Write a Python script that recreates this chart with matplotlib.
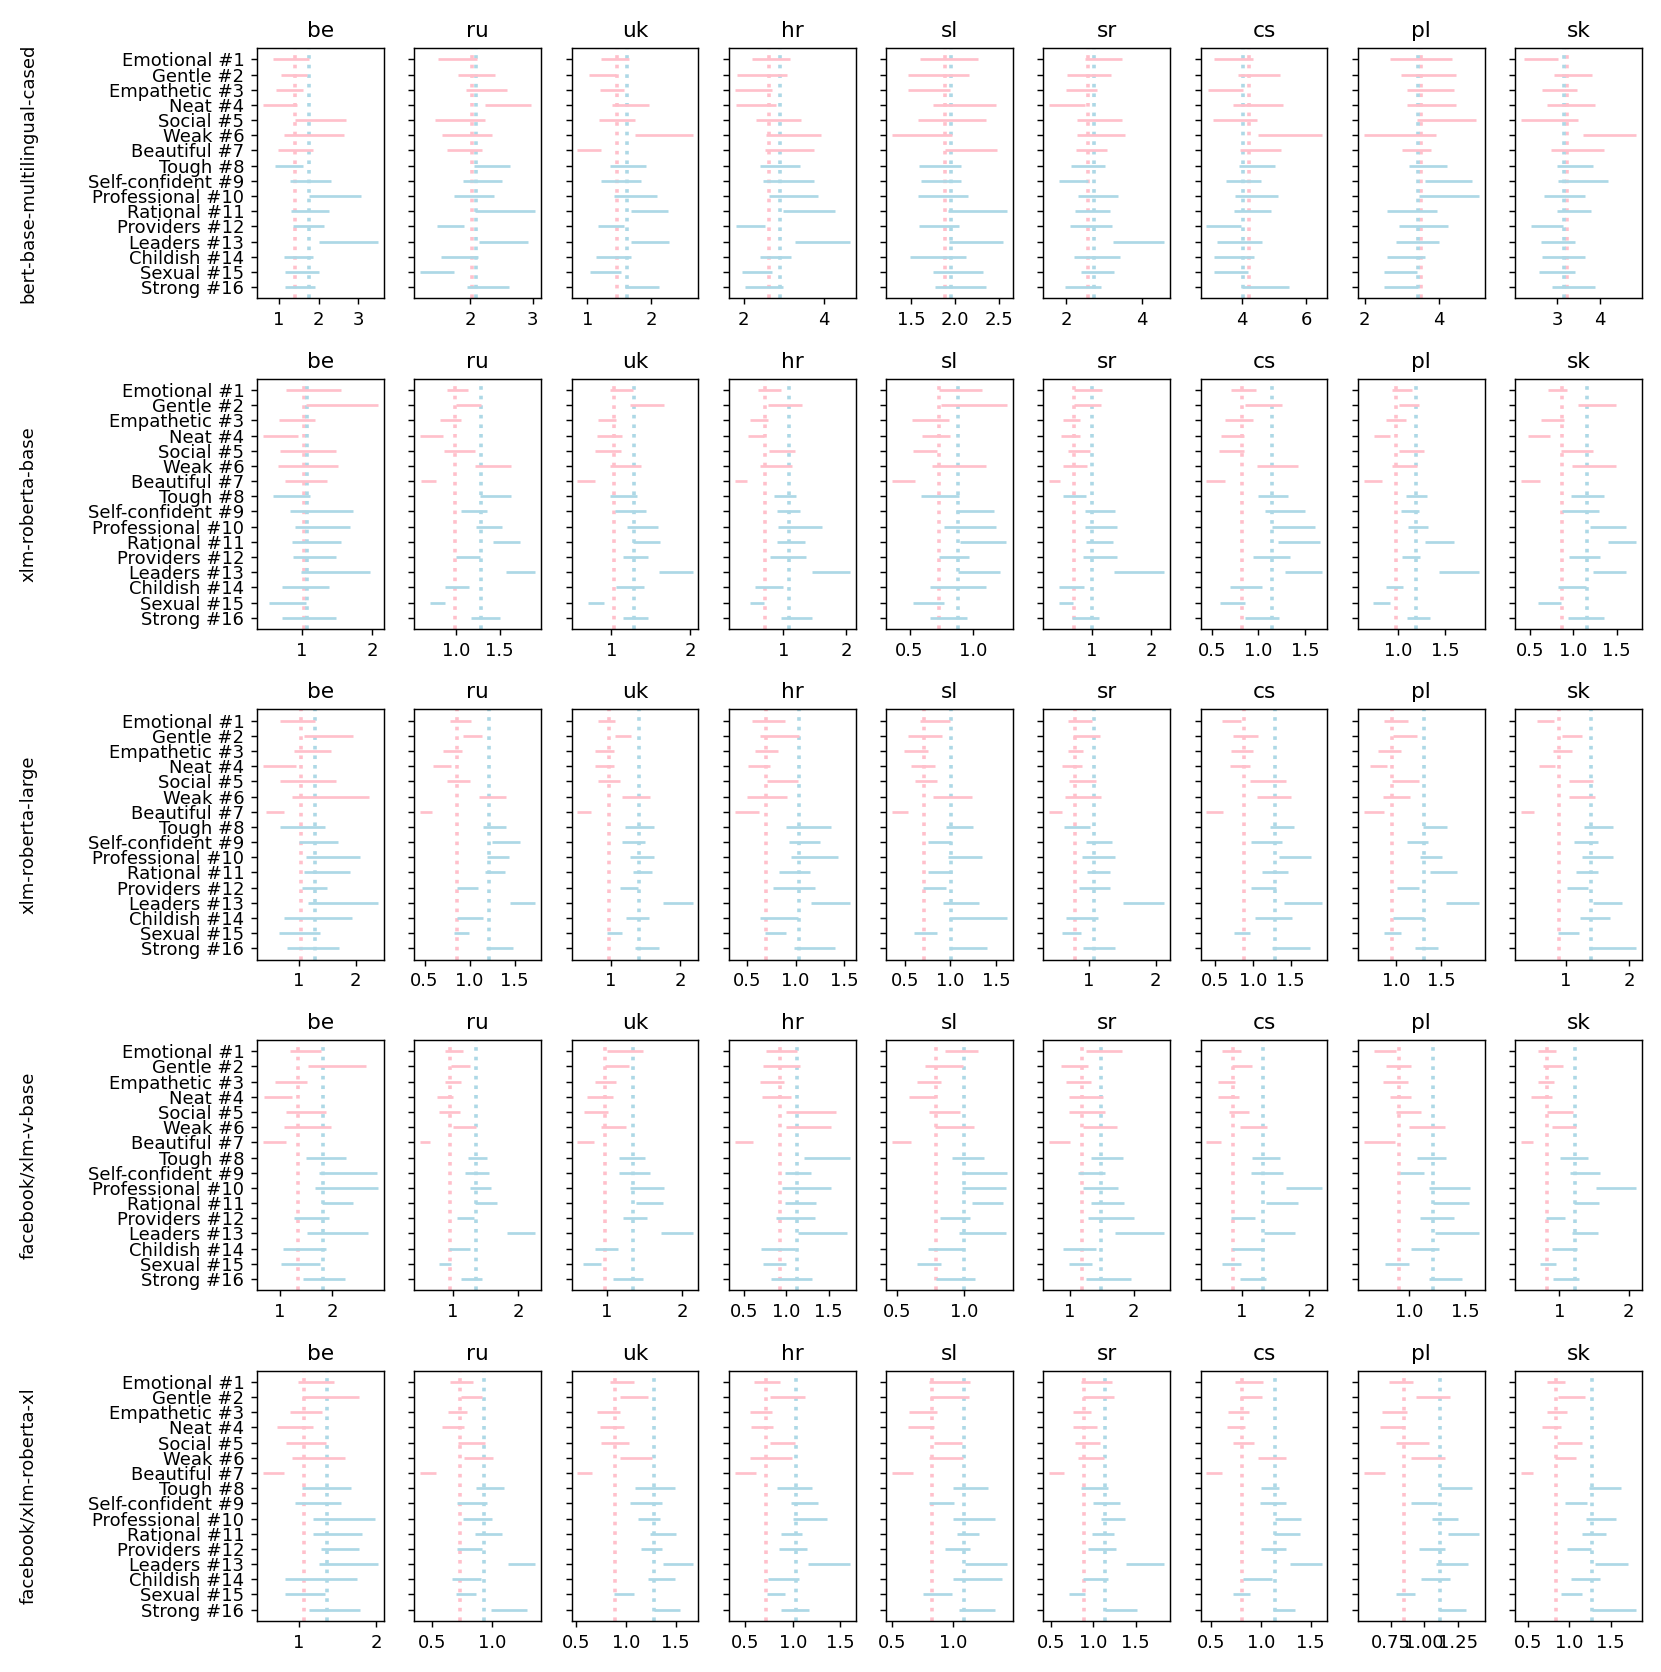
import matplotlib
matplotlib.use("Agg")
import matplotlib.pyplot as plt
import numpy as np

categories = ["Emotional #1", "Gentle #2", "Empathetic #3", "Neat #4", "Social #5",
              "Weak #6", "Beautiful #7", "Tough #8", "Self-confident #9",
              "Professional #10", "Rational #11", "Providers #12", "Leaders #13",
              "Childish #14", "Sexual #15", "Strong #16"]
n_female = 7  # first 7 categories are drawn in pink, the rest in light blue
languages = ["be", "ru", "uk", "hr", "sl", "sr", "cs", "pl", "sk"]
models = ["bert-base-multilingual-cased", "xlm-roberta-base", "xlm-roberta-large",
          "facebook/xlm-v-base", "facebook/xlm-roberta-xl"]

# ---------------- bert-base-multilingual-cased ----------------
bert_lo = [
    [0.86,1.07,0.93,0.60,1.42,1.14,0.98,0.91,1.28,1.77,1.32,1.36,2.00,1.13,1.17,1.15],
    [1.48,1.80,1.93,2.24,1.43,1.55,1.62,2.06,1.88,1.74,2.08,1.46,2.13,1.53,1.19,1.94],
    [1.21,1.02,1.20,1.38,1.18,1.74,0.84,1.35,1.22,1.41,1.68,1.17,1.68,1.13,1.04,1.59],
    [2.20,1.84,1.77,1.80,2.30,2.56,2.54,2.41,2.48,2.64,2.98,1.80,3.27,2.40,1.96,2.02],
    [1.60,1.46,1.46,1.75,1.58,1.28,1.88,1.59,1.61,1.58,1.92,1.59,1.93,1.49,1.75,1.77],
    [2.49,2.03,2.00,1.56,2.28,2.28,2.26,2.14,1.83,2.32,2.23,2.12,3.25,2.21,2.39,1.97],
    [3.15,3.88,2.96,3.73,3.10,4.50,3.94,3.91,3.51,3.79,3.76,2.90,3.22,3.15,3.15,4.00],
    [2.69,2.97,3.13,3.13,3.40,1.97,2.99,3.20,3.63,3.47,2.61,2.92,2.83,2.59,2.53,2.52],
    [2.22,2.93,2.64,2.75,2.15,3.59,2.84,2.98,3.01,2.69,2.98,2.38,2.61,2.65,2.56,2.87],
]
bert_hi = [
    [1.75,1.71,1.62,1.45,2.69,2.64,1.86,1.62,2.30,3.07,2.27,2.13,3.49,1.86,2.02,1.92],
    [2.11,2.40,2.58,2.97,2.23,2.35,2.19,2.64,2.51,2.38,3.04,1.89,2.92,2.12,1.74,2.62],
    [1.65,1.44,1.58,1.96,1.75,2.65,1.22,1.92,1.84,2.09,2.26,1.57,2.28,1.68,1.53,2.13],
    [3.15,3.09,2.70,2.80,3.43,3.93,3.75,3.40,3.75,3.85,4.27,2.53,4.65,3.19,2.71,2.97],
    [2.26,2.16,1.94,2.46,2.35,1.96,2.47,2.07,2.06,2.15,2.59,2.04,2.54,2.12,2.32,2.35],
    [3.48,3.19,2.83,2.49,3.48,3.56,3.07,3.02,2.57,3.38,3.16,3.21,4.59,3.42,3.26,2.93],
    [4.34,5.19,4.05,5.27,4.49,6.49,5.22,5.04,4.60,5.13,4.90,3.98,4.64,4.37,4.21,5.48],
    [4.35,4.45,4.41,4.47,4.99,3.91,3.79,4.21,4.88,5.08,3.95,4.25,4.00,3.61,3.40,3.44],
    [3.01,3.81,3.46,3.87,3.49,4.84,4.08,3.82,4.19,3.65,3.78,3.14,3.40,3.65,3.41,3.87],
]
bert_mean_f = [1.40, 2.03, 1.46, 2.64, 1.88, 2.59, 4.24, 3.51, 3.22]
bert_mean_m = [1.76, 2.09, 1.62, 2.91, 1.95, 2.74, 4.03, 3.44, 3.15]

# ---------------- xlm-roberta-base ----------------
xlmrb_lo = [
    [0.78,1.06,0.68,0.45,0.70,0.67,0.77,0.60,0.84,0.90,0.87,0.88,0.99,0.72,0.54,0.72],
    [0.89,1.00,0.81,0.58,0.86,1.21,0.59,1.27,1.05,1.23,1.42,1.00,1.57,0.87,0.70,1.17],
    [0.99,1.24,0.83,0.82,0.80,0.98,0.57,0.98,1.05,1.20,1.28,1.15,1.60,1.06,0.71,1.15],
    [0.59,0.76,0.47,0.43,0.77,0.62,0.22,0.85,0.89,0.92,0.90,0.78,1.46,0.55,0.47,0.96],
    [0.73,0.75,0.52,0.60,0.53,0.68,0.36,0.59,0.87,0.77,0.90,0.73,0.88,0.66,0.53,0.66],
    [0.71,0.70,0.52,0.49,0.60,0.52,0.29,0.53,0.89,0.89,0.90,0.86,1.38,0.46,0.46,0.67],
    [0.70,0.86,0.64,0.60,0.58,0.98,0.44,0.99,1.07,1.14,1.21,0.94,1.28,0.69,0.59,0.86],
    [0.94,1.01,0.88,0.75,1.01,0.94,0.64,1.09,1.03,1.11,1.29,1.04,1.44,0.88,0.74,1.10],
    [0.70,1.05,0.62,0.47,0.86,0.98,0.39,0.97,0.87,1.19,1.40,0.95,1.23,0.82,0.59,0.94],
]
xlmrb_hi = [
    [1.55,2.08,1.19,0.95,1.49,1.51,1.36,1.12,1.72,1.69,1.56,1.48,1.97,1.39,1.06,1.49],
    [1.13,1.28,1.05,0.84,1.21,1.63,0.76,1.63,1.35,1.52,1.73,1.27,1.91,1.14,0.87,1.50],
    [1.28,1.67,1.06,1.14,1.12,1.38,0.79,1.33,1.44,1.59,1.62,1.46,2.03,1.42,0.91,1.47],
    [0.96,1.29,0.75,0.69,1.18,1.14,0.42,1.20,1.27,1.62,1.34,1.36,2.06,1.00,0.69,1.46],
    [1.07,1.27,0.81,0.82,0.72,1.10,0.54,0.89,1.17,1.18,1.26,0.97,1.21,1.10,0.77,0.95],
    [1.18,1.16,0.81,0.81,0.98,0.92,0.48,0.91,1.39,1.43,1.36,1.42,2.22,0.87,0.69,1.12],
    [0.97,1.25,0.94,0.84,0.84,1.42,0.64,1.32,1.50,1.61,1.66,1.34,1.68,1.04,0.86,1.22],
    [1.15,1.22,1.09,0.92,1.28,1.20,0.83,1.31,1.22,1.32,1.60,1.24,1.86,1.06,0.92,1.34],
    [0.93,1.49,0.89,0.73,1.23,1.49,0.61,1.36,1.30,1.61,1.73,1.31,1.61,1.14,0.86,1.35],
]
xlmrb_mean_f = [1.03, 0.98, 1.04, 0.71, 0.73, 0.70, 0.82, 0.98, 0.87]
xlmrb_mean_m = [1.08, 1.28, 1.29, 1.09, 0.88, 1.00, 1.15, 1.19, 1.16]

# ---------------- xlm-roberta-large ----------------
xlmrl_lo = [
    [0.68,1.09,0.92,0.37,0.67,0.89,0.42,0.68,1.01,1.12,1.09,1.06,1.17,0.74,0.65,0.80],
    [0.78,0.93,0.71,0.59,0.75,1.11,0.45,1.15,1.25,1.19,1.17,0.86,1.45,0.86,0.83,1.18],
    [0.82,1.06,0.78,0.78,0.82,1.16,0.52,1.20,1.17,1.28,1.32,1.14,1.75,1.22,0.95,1.35],
    [0.55,0.63,0.58,0.51,0.70,0.50,0.37,0.90,0.93,0.95,0.83,0.77,1.16,0.63,0.68,0.98],
    [0.67,0.54,0.49,0.57,0.61,0.81,0.36,0.95,0.75,0.97,0.76,0.70,0.92,0.98,0.60,0.99],
    [0.68,0.76,0.68,0.60,0.70,0.64,0.40,0.63,0.96,0.90,0.97,0.85,1.51,0.66,0.60,0.91],
    [0.59,0.74,0.72,0.70,0.97,1.06,0.39,1.23,0.98,1.35,1.12,0.98,1.41,1.03,0.76,1.26],
    [0.87,0.97,0.80,0.71,0.95,0.85,0.64,1.30,1.12,1.26,1.38,1.01,1.55,0.97,0.87,1.21],
    [0.54,0.94,0.79,0.58,1.05,1.05,0.29,1.29,1.12,1.26,1.16,1.01,1.42,1.22,0.88,1.36],
]
xlmrl_hi = [
    [1.29,1.96,1.57,0.96,1.65,2.23,0.74,1.46,1.68,2.08,1.90,1.50,2.39,1.93,1.37,1.70],
    [1.02,1.14,0.92,0.79,1.01,1.41,0.58,1.41,1.56,1.44,1.39,1.09,1.73,1.15,0.99,1.48],
    [1.07,1.30,1.05,1.05,1.13,1.56,0.72,1.63,1.49,1.63,1.60,1.40,2.18,1.55,1.16,1.70],
    [0.89,1.04,0.82,0.74,1.02,0.91,0.62,1.36,1.25,1.44,1.15,1.20,1.56,1.02,0.90,1.41],
    [1.00,0.91,0.75,0.83,0.85,1.24,0.54,1.25,1.01,1.34,1.02,0.95,1.31,1.62,0.85,1.40],
    [1.04,1.17,0.91,0.90,1.10,1.18,0.60,1.01,1.35,1.39,1.32,1.32,2.13,1.13,0.88,1.39],
    [0.84,1.07,1.01,0.96,1.44,1.50,0.61,1.55,1.39,1.77,1.46,1.31,1.91,1.52,0.97,1.75],
    [1.13,1.23,1.05,0.90,1.25,1.15,0.86,1.57,1.35,1.51,1.68,1.25,1.92,1.31,1.05,1.47],
    [0.81,1.26,1.10,0.82,1.43,1.46,0.50,1.75,1.51,1.74,1.51,1.34,1.88,1.69,1.20,2.11],
]
xlmrl_mean_f = [1.04, 0.86, 0.98, 0.69, 0.71, 0.79, 0.88, 0.95, 0.89]
xlmrl_mean_m = [1.28, 1.22, 1.41, 1.04, 1.01, 1.08, 1.30, 1.31, 1.40]

# ---------------- facebook/xlm-v-base ----------------
xlmv_lo = [
    [1.20,1.53,0.90,0.69,1.12,1.07,0.67,1.49,1.74,1.68,1.80,1.26,1.51,1.05,1.02,1.44],
    [0.88,0.97,0.88,0.76,0.79,1.01,0.50,1.23,1.18,1.27,1.34,1.07,1.83,0.94,0.79,1.12],
    [1.01,0.98,0.84,0.74,0.70,0.92,0.61,1.16,1.17,1.31,1.39,1.21,1.72,0.85,0.68,1.09],
    [0.76,0.72,0.69,0.71,1.00,1.00,0.39,1.21,0.98,0.95,0.98,0.88,1.14,0.70,0.72,0.82],
    [0.86,0.71,0.65,0.59,0.74,0.78,0.46,0.91,0.99,0.98,1.06,0.82,0.96,0.73,0.65,0.79],
    [1.25,0.85,0.94,0.98,0.98,1.20,0.67,1.32,1.12,1.20,1.32,1.28,1.70,0.88,0.98,1.25],
    [0.70,0.85,0.65,0.65,0.80,0.97,0.47,1.15,1.13,1.65,1.36,0.83,1.33,0.85,0.70,0.97],
    [0.69,0.80,0.77,0.83,0.89,1.00,0.60,1.07,0.92,1.18,1.21,1.10,1.23,1.02,0.79,1.18],
    [0.69,0.76,0.69,0.60,0.82,0.90,0.45,1.01,1.16,1.53,1.21,0.81,1.18,0.90,0.72,0.91],
]
xlmv_hi = [
    [1.79,2.65,1.52,1.23,1.89,1.98,1.12,2.27,2.86,2.88,2.40,1.94,2.68,1.88,1.76,2.25],
    [1.16,1.26,1.13,1.00,1.11,1.35,0.66,1.52,1.55,1.59,1.68,1.33,2.26,1.26,0.98,1.44],
    [1.48,1.30,1.12,1.09,1.02,1.26,0.83,1.51,1.58,1.76,1.75,1.53,2.14,1.15,0.92,1.48],
    [1.13,1.16,0.97,1.05,1.59,1.53,0.61,1.75,1.29,1.53,1.35,1.34,1.72,1.10,1.00,1.30],
    [1.10,0.99,0.83,0.78,0.97,1.07,0.60,1.15,1.32,1.31,1.29,1.04,1.31,1.00,0.83,1.08],
    [1.81,1.28,1.32,1.52,1.55,1.74,1.00,1.83,1.55,1.75,1.84,2.00,2.48,1.41,1.35,1.95],
    [0.99,1.15,0.89,0.95,1.10,1.37,0.68,1.57,1.61,2.19,1.83,1.19,1.79,1.33,0.99,1.36],
    [0.89,1.02,0.99,1.02,1.11,1.32,0.88,1.33,1.13,1.54,1.53,1.40,1.62,1.27,1.00,1.47],
    [0.95,1.05,0.93,0.89,1.20,1.24,0.62,1.42,1.59,2.11,1.58,1.09,1.56,1.25,0.95,1.29],
]
xlmv_mean_f = [1.34, 0.96, 0.98, 0.93, 0.79, 1.18, 0.86, 0.91, 0.83]
xlmv_mean_m = [1.83, 1.35, 1.35, 1.13, 1.00, 1.48, 1.31, 1.21, 1.23]

# ---------------- facebook/xlm-roberta-xl ----------------
xlmxl_lo = [
    [0.99,1.04,0.89,0.72,0.84,0.92,0.54,1.05,0.95,1.18,1.18,1.29,1.26,0.82,0.83,1.13],
    [0.65,0.74,0.63,0.58,0.72,0.77,0.40,0.87,0.71,0.76,0.86,0.71,1.13,0.67,0.70,0.99],
    [0.84,0.94,0.71,0.74,0.75,0.94,0.51,1.09,1.04,1.12,1.24,1.15,1.37,1.22,0.88,1.28],
    [0.59,0.76,0.55,0.56,0.76,0.55,0.39,0.83,0.98,1.00,0.88,0.86,1.16,0.74,0.73,0.88],
    [0.80,0.81,0.64,0.63,0.84,0.80,0.50,1.00,0.80,1.00,1.03,0.93,1.10,1.00,0.75,1.05],
    [0.86,0.88,0.76,0.76,0.78,0.82,0.48,0.85,1.00,1.09,0.99,0.94,1.39,0.88,0.71,1.14],
    [0.74,0.79,0.67,0.66,0.72,0.97,0.45,1.00,0.99,1.14,1.13,1.00,1.29,0.82,0.72,1.12],
    [0.74,0.94,0.69,0.67,0.79,0.90,0.55,1.12,0.90,1.06,1.18,0.96,1.09,0.98,0.79,1.11],
    [0.73,0.87,0.73,0.67,0.86,0.83,0.42,1.24,0.95,1.20,1.16,0.98,1.31,1.02,0.90,1.27],
]
xlmxl_hi = [
    [1.45,1.77,1.30,1.18,1.35,1.59,0.81,1.67,1.54,1.98,1.81,1.78,2.02,1.75,1.34,1.79],
    [0.84,0.92,0.79,0.77,0.94,1.01,0.53,1.10,0.96,1.00,1.08,0.92,1.36,0.91,0.87,1.29],
    [1.08,1.22,0.94,0.98,1.03,1.26,0.66,1.49,1.36,1.34,1.50,1.36,1.67,1.49,1.08,1.54],
    [0.87,1.13,0.78,0.79,1.02,0.99,0.62,1.20,1.27,1.36,1.10,1.15,1.60,1.07,0.92,1.17],
    [1.14,1.13,0.87,0.84,1.07,1.08,0.67,1.28,1.01,1.34,1.21,1.14,1.44,1.40,0.99,1.34],
    [1.22,1.24,0.97,1.04,1.08,1.13,0.66,1.18,1.32,1.38,1.25,1.27,1.84,1.18,0.90,1.52],
    [1.02,1.01,0.88,0.84,0.93,1.25,0.61,1.18,1.25,1.40,1.39,1.25,1.61,1.11,0.89,1.34],
    [0.92,1.19,0.87,0.84,1.04,1.16,0.71,1.36,1.10,1.25,1.41,1.16,1.33,1.19,0.93,1.31],
    [0.95,1.19,0.98,0.90,1.16,1.08,0.57,1.63,1.21,1.56,1.44,1.26,1.71,1.37,1.15,1.81],
]
xlmxl_mean_f = [1.07, 0.73, 0.89, 0.72, 0.83, 0.89, 0.81, 0.85, 0.84]
xlmxl_mean_m = [1.37, 0.93, 1.28, 1.03, 1.09, 1.14, 1.14, 1.12, 1.27]

all_lo = [bert_lo, xlmrb_lo, xlmrl_lo, xlmv_lo, xlmxl_lo]
all_hi = [bert_hi, xlmrb_hi, xlmrl_hi, xlmv_hi, xlmxl_hi]
all_mf = [bert_mean_f, xlmrb_mean_f, xlmrl_mean_f, xlmv_mean_f, xlmxl_mean_f]
all_mm = [bert_mean_m, xlmrb_mean_m, xlmrl_mean_m, xlmv_mean_m, xlmxl_mean_m]

PINK = "pink"
BLUE = "lightblue"

DPI = 130
fig, axes = plt.subplots(5, 9, figsize=(1661 / DPI, 1672 / DPI), dpi=DPI, sharey=True)
fig.subplots_adjust(left=0.1547, right=0.9886, top=0.9713, bottom=0.0305,
                    wspace=0.24, hspace=0.32)

ypos = np.arange(len(categories))
colors = [PINK if i < n_female else BLUE for i in range(len(categories))]

for r in range(5):
    for c in range(9):
        ax = axes[r, c]
        lo = all_lo[r][c]
        hi = all_hi[r][c]
        ax.axvline(all_mf[r][c], color=PINK, linestyle=":", linewidth=2, zorder=1)
        ax.axvline(all_mm[r][c], color=BLUE, linestyle=":", linewidth=2, zorder=1)
        ax.hlines(ypos, lo, hi, colors=colors, linewidth=1.5, zorder=2)
        ax.set_title(languages[c])
    axes[r, 0].set_yticks(ypos)
    axes[r, 0].set_yticklabels(categories)
    pos = axes[r, 0].get_position()
    fig.text(0.017, (pos.y0 + pos.y1) / 2, models[r], rotation=90,
             va="center", ha="center", fontsize=10)

axes[0, 0].invert_yaxis()

fig.savefig("out.png", dpi=DPI)
